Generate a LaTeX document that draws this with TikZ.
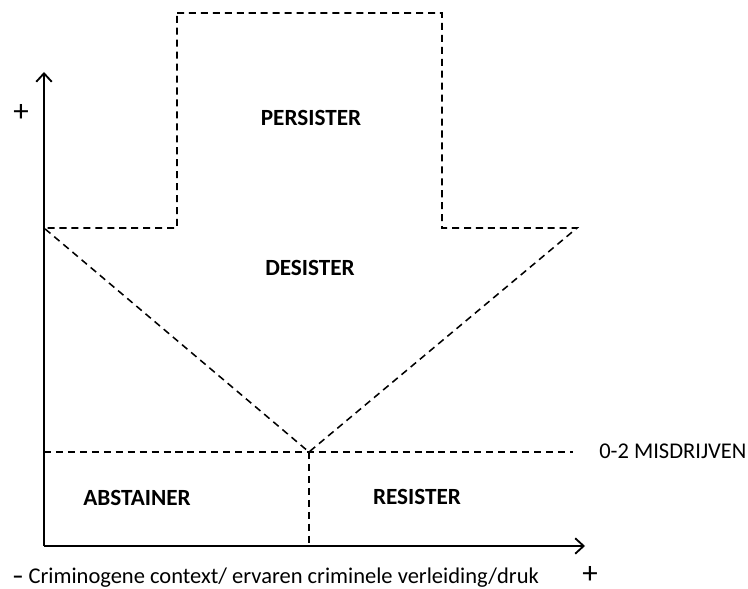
\documentclass[tikz,border=0pt]{standalone}
\usepackage{fontspec}
\setmainfont{Carlito}
\usetikzlibrary{arrows.meta}

\begin{document}
\begin{tikzpicture}[x=0.025cm,y=-0.025cm,
    axis/.style={-{Straight Barb[length=6pt,width=11pt,line width=1.3pt]},line width=1.5pt},
    grens/.style={dash pattern=on 5pt off 3.5pt,line width=1.1pt},
    every node/.style={font=\fontsize{16}{18}\selectfont}]
  \tikzstyle{groep}=[font=\fontsize{16.5}{18}\selectfont\bfseries]
  \tikzstyle{teken}=[inner sep=0pt,text depth=0pt,font=\fontsize{22}{22}\selectfont]
  \useasboundingbox (0,0) rectangle (748,589);

  % assen
  \coordinate (O)    at (44,546);
  \coordinate (ytop) at (44,72);
  \coordinate (xend) at (585,546);
  \draw[axis] (O) -- (ytop);
  \draw[axis] (O) -- (xend);

  % pijl
  \coordinate (p1) at (177,13);
  \coordinate (p2) at (442,13);
  \coordinate (p3) at (442,228);
  \coordinate (p4) at (577,228);
  \coordinate (punt) at (309,452);
  \coordinate (p6) at (44,228);
  \coordinate (p7) at (177,228);
  \draw[grens] (p1) -- (p2) -- (p3) -- (p4) -- (punt) -- (p6) -- (p7) -- cycle;

  % grens 0-2 misdrijven
  \coordinate (g1) at (44,452);
  \coordinate (g2) at (573,452);
  \coordinate (g3) at (309,546);
  \draw[grens] (g1) -- (g2);
  \draw[grens] (punt) -- (g3);

  \node[groep] (pers) at (311,118) {PERSISTER};
  \node[groep] (des)  at (310,268) {DESISTER};
  \node[groep] (abs)  at (137,498) {ABSTAINER};
  \node[groep] (res)  at (417,497) {RESISTER};
  \node[anchor=west,inner sep=0pt] (mis) at (599,451) {0-2 MISDRIJVEN};

  \node[teken] (yplus) at (21,113) {+};
  \node[teken] (xplus) at (590,575) {+};
  \node[anchor=west,inner sep=0pt] (xlab) at (12,578) {\textbf{–} Criminogene context/ ervaren criminele verleiding/druk};
\end{tikzpicture}
\end{document}
